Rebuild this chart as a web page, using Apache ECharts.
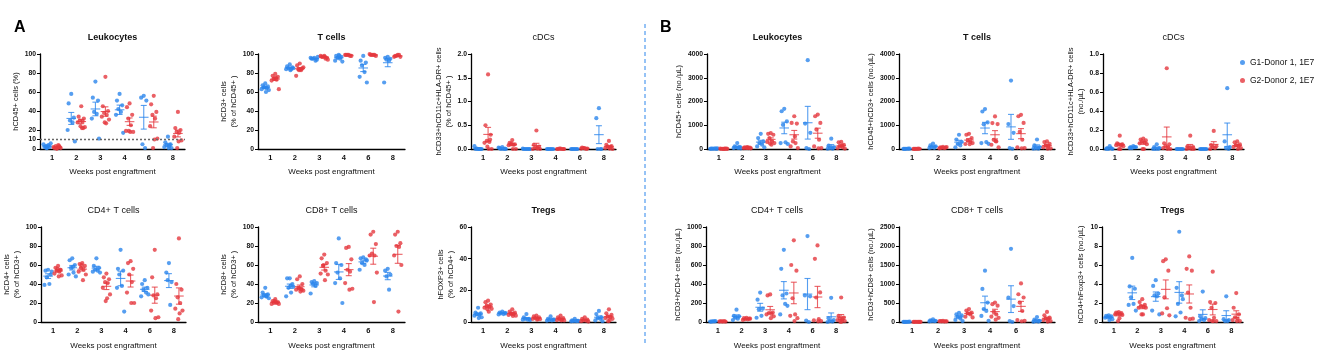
<!DOCTYPE html>
<html><head><meta charset="utf-8">
<script src="https://cdn.jsdelivr.net/npm/echarts@6/dist/echarts.min.js"></script>
<style>html,body{margin:0;padding:0;background:#fff}#c{width:1320px;height:361px}</style>
</head><body><div id="c"></div><script>
const weeks = ['1','2','3','4','6','8'];
const groupNames = ['G1-Donor 1, 1E7', 'G2-Donor 2, 1E7'];
const aLeuTicks = [0, 10, 20, 40, 60, 80, 100];
const aLeuThreshold = 10;

// Panel A (% values)
const aLeuG1 = [[1,2,2,3,4,5,6,3,1],[58,48,33,30,28,20,8],[71,54,51,39,37,32,11],[58,51,46,42,39,36,17],[56,54,51,5,1],[13,7,5,4,3,2,1,1]];
const aLeuG2 = [[0.5,1,2,3,4,2,1,1.5,0.5,3],[45,34,32,30,29,28,23,22,24,22],[76,45,40,38,36,34,31,27,28],[48,44,36,32,25,19,18,18,19],[56,47,39,36,32,24,11,10,1],[39,22,20,18,17,13,9,8,1]];
const aTG1 = [[69,67,66,65,64,63,62,60,65],[89,87,86,85,84,84,85,83],[96,95,94,95,93,96,97],[99,98,97,96,95,93,92,98],[98,93,91,88,81,76,70],[97,96,95,94,93,70]];
const aTG2 = [[79,77,76,74,73,72,63,75,74],[90,88,85,84,83,77,86,84,83],[98,97,96,97,95,98,94,97],[99,99,98,99,98,99],[99,99,98,99,99,100],[99,98,97,98,99,97]];
const aDcG1 = [[0,0,0,0.01,0,0.06,0,0],[0.04,0.02,0.01,0,0,0.03,0],[0,0,0,0,0,0.01,0],[0,0,0,0,0,0],[0,0,0,0,0,0],[0.86,0.65,0,0,0]];
const aDcG2 = [[1.57,0.5,0.3,0.17,0.15,0.13,0,0,0.05,0.2],[0.19,0.13,0.1,0.1,0.09,0.08,0,0,0.12],[0.39,0.09,0.05,0.03,0.02,0,0,0.01],[0.01,0,0,0.01,0,0,0],[0.02,0.03,0.01,0.02,0,0.01],[0.17,0.09,0.06,0.05,0.03,0.02,0,0.01]];
const aCd4G1 = [[55,54,50,47,40,39,53],[67,65,60,57,52,50,48,58],[67,59,57,55,54,53,52],[76,56,54,50,38,36,11],[44,40,36,34,31,27,29],[62,52,42,44,18]];
const aCd4G2 = [[59,57,55,54,53,51,49,48,56,55],[62,61,59,57,55,53,50,44,60],[51,47,45,42,41,36,29,25,22],[64,62,56,50,42,31,20,20],[76,47,29,28,25,12,5,4],[88,40,34,26,20,14,12,9,3]];
const aCd8G1 = [[36,31,29,28,27,26,25,27],[46,46,40,36,31,27,37,38],[43,42,41,40,38,30],[88,62,60,52,46,41,20],[68,67,66,62,60,55,65],[56,54,50,48,34]];
const aCd8G2 = [[24,22,21,20,20,19,19,21,22],[48,45,40,36,35,34,33,32,35,34],[71,67,62,59,54,51,50,44,60],[79,78,66,55,53,41,35,34],[95,92,82,72,70,70,52,21],[95,92,83,80,79,70,60,11]];
const aTrG1 = [[9,6,5.5,5,4.5,4,3,2.5],[6.5,6,5.8,5.5,5,4.8,5.5],[5,3,2,2,1.5,1.5,1.2],[3.5,2,1.5,1.2,1,0.8,1.5],[2,1,0.8,0.6,0.5,0.4,0.7],[7,5,3,2.5,2,1,0.5]];
const aTrG2 = [[13.5,12.5,11,10.4,9.5,9,8.3,6.5,8],[8,6.5,6,5.5,5,4.5,4,3.8,5],[4,3.5,3,2.5,2,2,1.8,1.5],[4,3,2.5,2,1.5,1.2,1,1],[3,2,1.5,1,0.8,0.5,0.3],[8,5.5,4.5,3.5,3,2.5,2,1,0.5]];

// Panel B (no./µL)
const bLeuG1 = [[10,20,5,15,30,8,25],[250,110,90,70,60,40,30,50],[640,460,320,250,180,110,70],[1690,1590,1160,1020,280,250,210],[3740,1070,680,40,0],[435,140,70,40,15,10]];
const bLeuG2 = [[5,10,15,8,12,20,6,10],[80,70,60,50,40,40,30,60,50],[670,640,600,460,320,300,250,180,230],[1380,1100,1070,320,250,110,40,530],[1450,1380,1100,820,390,110,40,30],[300,280,180,110,70,40,20,140]];
const bTG1 = [[10,5,15,8,20,6],[230,150,110,70,50,40],[600,400,300,210,150,70],[1680,1580,1120,1040,290,250,220],[2880,1050,680,40,10],[400,150,70,30,15,10]];
const bTG2 = [[5,8,10,6,12,4],[90,70,60,50,40,30,80],[640,600,460,350,300,210,250,200],[1370,1090,1050,390,320,180,70,330],[1440,1380,1100,720,390,70,40,30],[320,290,220,150,100,70,30,15]];
const bDcG1 = [[0.03,0.01,0,0,0.01,0],[0.03,0.02,0.02,0.01,0.02,0.01],[0.05,0.02,0.01,0,0,0],[0,0,0,0,0,0],[0,0,0,0,0,0],[0.64,0.08,0.02,0.01,0]];
const bDcG2 = [[0.14,0.06,0.05,0.05,0.04,0.04,0.03,0,0],[0.11,0.1,0.09,0.08,0.07,0.06,0.05,0,0],[0.85,0.06,0.05,0.03,0.02,0.01,0,0],[0.14,0.03,0.02,0.01,0,0,0],[0.19,0.04,0.03,0.02,0.01,0],[0.08,0.07,0.05,0.04,0.03,0.02,0.01,0]];
const bCd4G1 = [[8,5,10,3,6],[130,65,60,45,35,20],[310,235,140,135,65,45],[760,560,300,280,190,80,170],[905,280,270,15,0],[255,40,20,10,5,0]];
const bCd4G2 = [[5,8,3,6,10,4],[45,40,35,30,28,21,35],[290,280,100,95,85,80,60,40],[860,600,540,250,80,65,40,10],[806,665,311,258,30,18,10,7],[258,64,46,35,28,20,10,5,0]];
const bCd8G1 = [[5,3,8,2,6,4],[70,45,30,25,20,15],[240,200,175,140,90,55,25],[1350,870,510,340,290,160,30],[1925,640,420,25,0],[130,60,30,20,10,5]];
const bCd8G2 = [[3,5,2,6,4,3,5],[30,25,20,15,10,20,18],[340,300,250,230,200,140,120],[510,470,430,270,200,140,110,60],[1015,730,645,510,290,50,30,20],[265,175,115,90,70,50,26,10]];
const bTrG1 = [[0.7,0.65,0.6,0.55,0.5,0.45,0.3,0.2],[6.75,3.75,3.5,2.6,1.9,1.8,1.2],[4.4,3.8,3,2.8,2.7,1.2,0.8],[9.5,3.6,2.8,1.9,1.0,0.6,2.4],[3.2,0.6,0.4,0.3,0.2,0.1],[2.7,0.3,0.2,0.1,0.1]];
const bTrG2 = [[1.05,1,0.95,0.9,0.85,0.8,0.75,0.4,0.1],[2.4,2.1,1.8,1.7,1.6,1.5,1.5,0.8,0.8],[6.6,6.4,5.4,2.6,1.45,0.9,0.7],[6.9,5.6,5.4,3.1,1.5,0.45,0.35,0.3],[5.3,2.1,2.0,1.5,0.45,0.2,0.1,0.1,0.1],[3.05,1.5,0.8,0.5,0.35,0.2,0.1,0.1]];

const FONT = '"Liberation Sans", Arial, sans-serif';
const COLORS = ['#2C86EC', '#E5383E'];
const ROW_TOP = [54, 227];
const H = 95;

const panels = [
  {t:'Leukocytes', b:true, g1:aLeuG1, g2:aLeuG2, l:40, w:145, r:0, max:100, ticks:aLeuTicks, ref:aLeuThreshold, yn:'hCD45+ cells (%)', ng:13},
  {t:'T cells', b:true, g1:aTG1, g2:aTG2, l:258, w:147, r:0, max:100, iv:20, yn:'hCD3+ cells\n(% of hCD45+ )', ng:17},
  {t:'cDCs', b:false, g1:aDcG1, g2:aDcG2, l:471, w:145, r:0, max:2, iv:0.5, dec:1, yn:'hCD33+hCD11c+HLA-DR+ cells\n(% of hCD45+ )', ng:14},
  {t:'CD4+ T cells', b:false, g1:aCd4G1, g2:aCd4G2, l:41, w:145, r:1, max:100, iv:20, yn:'hCD4+ cells\n(% of hCD3+ )', ng:16},
  {t:'CD8+ T cells', b:false, g1:aCd8G1, g2:aCd8G2, l:258, w:147, r:1, max:100, iv:20, yn:'hCD8+ cells\n(% of hCD3+ )', ng:18},
  {t:'Tregs', b:true, g1:aTrG1, g2:aTrG2, l:471, w:145, r:1, max:60, iv:20, yn:'hFOXP3+ cells\n(% of hCD4+ )', ng:15},
  {t:'Leukocytes', b:true, g1:bLeuG1, g2:bLeuG2, l:707, w:141, r:0, max:4000, iv:1000, yn:'hCD45+ cells (no./µL)', ng:23},
  {t:'T cells', b:true, g1:bTG1, g2:bTG2, l:899, w:156, r:0, max:4000, iv:1000, yn:'hCD45+hCD3+ cells (no./µL)', ng:21},
  {t:'cDCs', b:false, g1:bDcG1, g2:bDcG2, l:1103, w:141, r:0, max:1, iv:0.2, dec:1, yn:'hCD33+hCD11c+HLA-DR+ cells\n(no./µL)', ng:16},
  {t:'CD4+ T cells', b:false, g1:bCd4G1, g2:bCd4G2, l:706, w:142, r:1, max:1000, iv:200, yn:'hCD3+hCD4+ cells (no./µL)', ng:22},
  {t:'CD8+ T cells', b:false, g1:bCd8G1, g2:bCd8G2, l:899, w:156, r:1, max:2500, iv:500, yn:'hCD3+hCD8+ cells (no./µL)', ng:21},
  {t:'Tregs', b:true, g1:bTrG1, g2:bTrG2, l:1102, w:141, r:1, max:10, iv:2, yn:'hCD4+hFoxp3+ cells (no./µL)', ng:16}
];

const JIT = [0, -2.6, 2.6, -1.3, 1.3, -3.6, 3.6, 0.7, -0.7, 2, -2];
const GROUP_DX = [-5, 5];

function stats(arr) {
  const n = arr.length;
  const m = arr.reduce((a, b) => a + b, 0) / n;
  const sd = n > 1 ? Math.sqrt(arr.reduce((a, b) => a + (b - m) * (b - m), 0) / (n - 1)) : 0;
  return [m, sd / Math.sqrt(n)];
}

function errRender(dx, color) {
  return function (params, api) {
    const c = api.coord([api.value(0), api.value(1)]);
    const lo = api.coord([api.value(0), api.value(2)]);
    const hi = api.coord([api.value(0), api.value(3)]);
    const cx = c[0] + dx;
    const st = {stroke: color, lineWidth: 1.1, opacity: 0.8};
    return {type: 'group', children: [
      {type: 'line', shape: {x1: cx, y1: lo[1], x2: cx, y2: hi[1]}, style: st},
      {type: 'line', shape: {x1: cx - 3, y1: lo[1], x2: cx + 3, y2: lo[1]}, style: st},
      {type: 'line', shape: {x1: cx - 3, y1: hi[1], x2: cx + 3, y2: hi[1]}, style: st},
      {type: 'line', shape: {x1: cx - 4.8, y1: c[1], x2: cx + 4.8, y2: c[1]}, style: st}
    ]};
  };
}

const grid = [], xAxis = [], yAxis = [], series = [], graphic = [];
panels.forEach((p, k) => {
  const top = ROW_TOP[p.r];
  grid.push({left: p.l, top: top, width: p.w, height: H, containLabel: false});
  xAxis.push({
    gridIndex: k, type: 'category', data: weeks, boundaryGap: true,
    name: 'Weeks post engraftment', nameLocation: 'middle', nameGap: p.r ? 20 : 19,
    nameTextStyle: {fontFamily: FONT, fontSize: 8, color: '#111'},
    axisLine: {lineStyle: {color: '#000', width: 1.3}},
    axisTick: {alignWithLabel: true, length: 3, lineStyle: {color: '#000', width: 1}},
    axisLabel: {fontFamily: FONT, fontSize: 7.5, fontWeight: 'bold', color: '#111', margin: 5}
  });
  const y = {
    gridIndex: k, type: 'value', min: 0, max: p.max,
    name: p.yn, nameLocation: 'middle', nameRotate: 90, nameGap: p.ng,
    nameTextStyle: {fontFamily: FONT, fontSize: 7.5, color: '#111', lineHeight: 10},
    splitLine: {show: false},
    axisLine: {show: true, lineStyle: {color: '#000', width: 1.3}},
    axisTick: {show: true, length: 3, lineStyle: {color: '#000', width: 1}},
    axisLabel: {fontFamily: FONT, fontSize: 6.8, fontWeight: 'bold', color: '#111', margin: 4,
      formatter: v => p.dec ? v.toFixed(p.dec) : String(v)}
  };
  if (p.ticks) {
    y.interval = 10;
    y.axisLabel.customValues = p.ticks;
    y.axisTick.customValues = p.ticks;
  } else {
    y.interval = p.iv;
  }
  yAxis.push(y);

  [p.g1, p.g2].forEach((g, gi) => {
    const pts = [];
    const err = [];
    g.forEach((vals, ci) => {
      vals.forEach((v, j) => {
        pts.push({value: [ci, v], symbolOffset: [GROUP_DX[gi] + JIT[j % JIT.length], 0]});
      });
      const [m, se] = stats(vals);
      err.push([ci, m, Math.max(0, m - se), m + se]);
    });
    const sc = {
      name: groupNames[gi], type: 'scatter', xAxisIndex: k, yAxisIndex: k,
      data: pts, symbol: 'circle', symbolSize: 4.2,
      itemStyle: {color: COLORS[gi]}, z: 2, silent: true
    };
    if (p.ref !== undefined && gi === 0) {
      sc.markLine = {
        silent: true, symbol: 'none', label: {show: false},
        lineStyle: {type: [2, 2], color: '#666', width: 1.4},
        data: [{yAxis: p.ref}]
      };
    }
    series.push(sc);
    series.push({
      name: groupNames[gi], type: 'custom', xAxisIndex: k, yAxisIndex: k,
      data: err, renderItem: errRender(GROUP_DX[gi], COLORS[gi]), z: 3, silent: true
    });
  });

  graphic.push({
    type: 'text', x: p.l + p.w / 2, y: p.r ? 211 : 38,
    style: {text: p.t, font: (p.b ? 'bold ' : '') + '9px ' + FONT, fill: '#111', align: 'center', verticalAlign: 'middle'}
  });
});

graphic.push({type: 'text', x: 14, y: 20, style: {text: 'A', font: 'bold 16px ' + FONT, fill: '#000'}});
graphic.push({type: 'text', x: 660, y: 20, style: {text: 'B', font: 'bold 16px ' + FONT, fill: '#000'}});
graphic.push({type: 'line', shape: {x1: 645, y1: 24, x2: 645, y2: 346},
  style: {stroke: '#2C86EC', lineWidth: 1, lineDash: [4, 3]}});

const chart = echarts.init(document.getElementById('c'), null, {renderer: 'canvas'});
chart.setOption({
  animation: false,
  backgroundColor: '#fff',
  grid, xAxis, yAxis, series, graphic,
  legend: {
    data: groupNames, orient: 'vertical', left: 1235, top: 53,
    itemWidth: 5, itemHeight: 5, itemGap: 9, icon: 'circle',
    textStyle: {fontFamily: FONT, fontSize: 8.5, color: '#111'}
  }
});
</script></body></html>
